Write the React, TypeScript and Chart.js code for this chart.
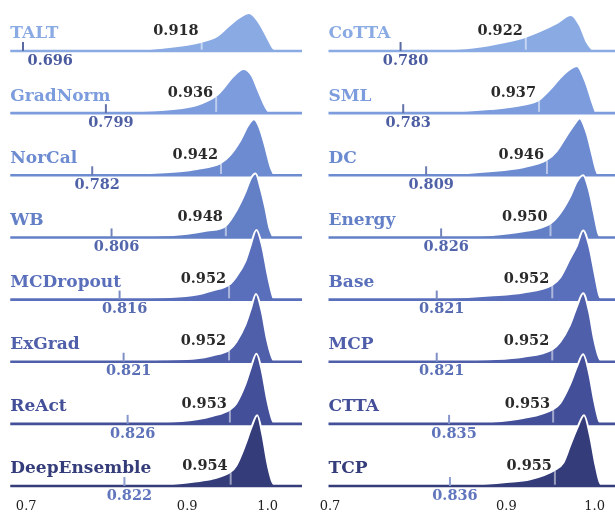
import React, { useEffect, useRef } from "react";
import { Chart, registerables } from "chart.js";
Chart.register(...registerables);

// ---------------- data ----------------
const leftMethods = ["TALT", "GradNorm", "NorCal", "WB", "MCDropout", "ExGrad", "ReAct", "DeepEnsemble"];
const leftMedians = [0.918, 0.936, 0.942, 0.948, 0.952, 0.952, 0.953, 0.954];
const leftLows = [0.696, 0.799, 0.782, 0.806, 0.816, 0.821, 0.826, 0.822];

const rightMethods = ["CoTTA", "SML", "DC", "Energy", "Base", "MCP", "CTTA", "TCP"];
const rightMedians = [0.922, 0.937, 0.946, 0.95, 0.952, 0.952, 0.953, 0.955];
const rightLows = [0.78, 0.783, 0.809, 0.826, 0.821, 0.821, 0.835, 0.836];

// density curves: [score, density (in row heights)]
const taltDensity = [[0.76, 0], [0.8, 0.005], [0.829, 0.016], [0.87, 0.053], [0.918, 0.15], [0.937, 0.24], [0.953, 0.42], [0.966, 0.55], [0.977, 0.61], [0.988, 0.48], [0.999, 0.23], [1.007, 0.043], [1.013, 0]];
const gradNormDensity = [[0.74, 0], [0.8, 0.006], [0.829, 0.024], [0.891, 0.08], [0.912, 0.13], [0.936, 0.28], [0.945, 0.4], [0.957, 0.59], [0.97, 0.71], [0.98, 0.61], [0.988, 0.37], [0.997, 0.106], [1.002, 0]];
const norCalDensity = [[0.73, 0], [0.8, 0.008], [0.829, 0.024], [0.891, 0.065], [0.912, 0.1], [0.942, 0.2], [0.953, 0.32], [0.966, 0.56], [0.976, 0.81], [0.983, 0.9], [0.99, 0.76], [0.997, 0.46], [1.003, 0.16], [1.008, 0]];
const wbDensity = [[0.74, 0], [0.829, 0.016], [0.87, 0.03], [0.9, 0.06], [0.925, 0.11], [0.948, 0.19], [0.961, 0.43], [0.972, 0.72], [0.979, 0.95], [0.985, 1.03], [0.991, 0.8], [0.997, 0.48], [1.002, 0.16], [1.007, 0]];
const mcDropoutDensity = [[0.75, 0], [0.83, 0.016], [0.87, 0.035], [0.912, 0.08], [0.932, 0.15], [0.952, 0.24], [0.961, 0.37], [0.972, 0.61], [0.978, 0.84], [0.986, 1.12], [0.9926, 0.89], [1.0008, 0.35], [1.007, 0.027], [1.009, 0]];
const exGradDensity = [[0.75, 0], [0.83, 0.016], [0.87, 0.03], [0.912, 0.055], [0.932, 0.105], [0.952, 0.19], [0.961, 0.32], [0.972, 0.59], [0.979, 0.85], [0.9855, 1.09], [0.9926, 0.81], [0.999, 0.37], [1.005, 0.08], [1.008, 0]];
const reActDensity = [[0.75, 0], [0.87, 0.027], [0.912, 0.075], [0.932, 0.13], [0.953, 0.23], [0.961, 0.33], [0.972, 0.63], [0.979, 0.9], [0.986, 1.13], [0.993, 0.84], [0.999, 0.41], [1.005, 0.09], [1.008, 0]];
const deepEnsembleDensity = [[0.75, 0], [0.87, 0.023], [0.912, 0.076], [0.932, 0.12], [0.954, 0.23], [0.961, 0.33], [0.972, 0.66], [0.98, 0.95], [0.987, 1.14], [0.9935, 0.82], [0.9993, 0.39], [1.005, 0.09], [1.009, 0]];

const coTTADensity = [[0.77, 0], [0.825, 0.016], [0.862, 0.056], [0.9, 0.15], [0.922, 0.23], [0.938, 0.32], [0.957, 0.45], [0.973, 0.58], [0.983, 0.42], [0.991, 0.15], [0.9985, 0]];
const smlDensity = [[0.77, 0], [0.825, 0.016], [0.881, 0.065], [0.919, 0.134], [0.937, 0.215], [0.949, 0.375], [0.9645, 0.62], [0.98, 0.76], [0.989, 0.53], [0.997, 0.19], [1.0016, 0]];
const dcDensity = [[0.78, 0], [0.825, 0.016], [0.881, 0.065], [0.919, 0.13], [0.946, 0.25], [0.957, 0.39], [0.968, 0.63], [0.978, 0.84], [0.983, 0.92], [0.991, 0.68], [0.997, 0.35], [1.0016, 0.09], [1.0042, 0]];
const energyDensity = [[0.79, 0], [0.825, 0.011], [0.881, 0.037], [0.919, 0.1], [0.95, 0.225], [0.961, 0.39], [0.972, 0.65], [0.98, 0.9], [0.987, 1.0], [0.9937, 0.76], [0.9993, 0.39], [1.0042, 0.065], [1.0069, 0]];
const baseDensity = [[0.79, 0], [0.825, 0.016], [0.881, 0.065], [0.919, 0.113], [0.952, 0.237], [0.961, 0.355], [0.972, 0.655], [0.98, 0.87], [0.987, 1.11], [0.9937, 0.87], [1.0005, 0.39], [1.0053, 0.065], [1.008, 0]];
const mcpDensity = [[0.79, 0], [0.825, 0.016], [0.881, 0.037], [0.919, 0.08], [0.952, 0.2], [0.961, 0.32], [0.972, 0.59], [0.98, 0.89], [0.987, 1.1], [0.9937, 0.81], [0.9993, 0.375], [1.0046, 0.08], [1.0076, 0]];
const cttaDensity = [[0.8, 0], [0.862, 0.016], [0.881, 0.027], [0.919, 0.092], [0.953, 0.237], [0.961, 0.333], [0.972, 0.63], [0.98, 0.92], [0.987, 1.12], [0.9937, 0.82], [0.9993, 0.39], [1.0046, 0.065], [1.0076, 0]];
const tcpDensity = [[0.8, 0], [0.8625, 0.021], [0.9003, 0.065], [0.9268, 0.108], [0.955, 0.26], [0.9645, 0.375], [0.9721, 0.645], [0.9804, 0.935], [0.988, 1.14], [0.9948, 0.81], [1.0005, 0.375], [1.0053, 0.08], [1.0084, 0]];

const leftDensities = [taltDensity, gradNormDensity, norCalDensity, wbDensity, mcDropoutDensity, exGradDensity, reActDensity, deepEnsembleDensity];
const rightDensities = [coTTADensity, smlDensity, dcDensity, energyDensity, baseDensity, mcpDensity, cttaDensity, tcpDensity];

const xTickValues = [0.7, 0.9, 1.0];
const xTickLabels = ["0.7", "0.9", "1.0"];

// ---------------- styles ----------------
const rowColors = ["#8aaae4", "#7c9cdd", "#6d8bd0", "#6380c7", "#5a6fbb", "#4f5faa", "#434f98", "#343c7a"];
const lowLabelColors = ["#4a5a9e", "#4d5ea3", "#5062a7", "#5366ac", "#576bb1", "#5a6fb5", "#5e73ba", "#6276be"];
const tickColors = ["#5a6aa2", "#6373aa", "#6b7bb3", "#7383bb", "#7a8ac2", "#8090c7", "#8797cc", "#8d9dd2"];

const W = 615;
const H = 515;
const ROW_PX = 62.14;
const BOTTOM_BASE_PX = 486;
const SERIF = "'DejaVu Serif', serif";

type Spec = {
  methods: string[];
  medians: number[];
  lows: number[];
  densities: number[][][];
  left: number;
  width: number;
  origin: number;
  ppu: number;
  lineStart: number;
  lineEnd: number;
};

const leftSpec: Spec = {
  methods: leftMethods, medians: leftMedians, lows: leftLows, densities: leftDensities,
  left: 0, width: 312, origin: 26.2, ppu: 805, lineStart: 0.6802, lineEnd: 1.0426,
};
const rightSpec: Spec = {
  methods: rightMethods, medians: rightMedians, lows: rightLows, densities: rightDensities,
  left: 312, width: 303, origin: 18, ppu: 882, lineStart: 0.6983, lineEnd: 1.03,
};

function Panel({ spec }: { spec: Spec }) {
  const ref = useRef<HTMLCanvasElement>(null);
  useEffect(() => {
    const canvas = ref.current;
    if (!canvas) return;
    const n = spec.methods.length;
    const xmin = 0.7 - spec.origin / spec.ppu;
    const xmax = xmin + spec.width / spec.ppu;
    const ymin = -(H - BOTTOM_BASE_PX) / ROW_PX;
    const ymax = BOTTOM_BASE_PX / ROW_PX;

    const datasets: any[] = [];
    let k = 0;
    spec.methods.forEach((m, i) => {
      const base = n - 1 - i;
      datasets.push({
        type: "line",
        label: m,
        data: spec.densities[i].map(([v, d]) => ({ x: v, y: base + d })),
        fill: { value: base },
        backgroundColor: rowColors[i],
        borderColor: "#ffffff",
        borderWidth: 2,
        cubicInterpolationMode: "monotone",
        pointRadius: 0,
        order: 1000 - k++,
      });
      datasets.push({
        type: "line",
        label: m + " baseline",
        data: [{ x: spec.lineStart, y: base }, { x: spec.lineEnd, y: base }],
        borderColor: rowColors[i],
        borderWidth: 2.6,
        fill: false,
        pointRadius: 0,
        order: 1000 - k++,
      });
    });

    const annot = {
      id: "annot",
      afterDatasetsDraw(chart: any) {
        const ctx = chart.ctx as CanvasRenderingContext2D;
        const xs = chart.scales.x;
        const ys = chart.scales.y;
        const panelLeftPx = xs.getPixelForValue(spec.lineStart);
        ctx.save();
        spec.methods.forEach((m, i) => {
          const base = n - 1 - i;
          const by = ys.getPixelForValue(base);
          const med = spec.medians[i];
          const pt = spec.densities[i].find((p) => p[0] === med);
          const mx = xs.getPixelForValue(med);
          const top = ys.getPixelForValue(base + (pt ? pt[1] : 0));
          ctx.strokeStyle = "rgba(255,255,255,0.5)";
          ctx.lineWidth = 2;
          ctx.beginPath();
          ctx.moveTo(mx, by - 1.3);
          ctx.lineTo(mx, top + 1);
          ctx.stroke();
          const lx = xs.getPixelForValue(spec.lows[i]);
          ctx.strokeStyle = tickColors[i];
          ctx.lineWidth = 2;
          ctx.beginPath();
          ctx.moveTo(lx, by);
          ctx.lineTo(lx, by - 9);
          ctx.stroke();

          ctx.textBaseline = "middle";
          ctx.font = `bold 17px ${SERIF}`;
          ctx.fillStyle = rowColors[i];
          ctx.textAlign = "left";
          ctx.fillText(m, panelLeftPx, by - 17);

          ctx.font = `bold 14.5px ${SERIF}`;
          ctx.fillStyle = "#2a2a2a";
          ctx.textAlign = "right";
          ctx.fillText(med.toFixed(3), mx - 3, by - 20);

          ctx.fillStyle = lowLabelColors[i];
          ctx.textAlign = "center";
          const cx = Math.max(lx + 5, panelLeftPx + 40);
          ctx.fillText(spec.lows[i].toFixed(3), cx, by + 10);
        });
        ctx.font = `13px ${SERIF}`;
        ctx.fillStyle = "#222222";
        ctx.textAlign = "center";
        ctx.textBaseline = "middle";
        xTickValues.forEach((v, j) => {
          ctx.fillText(xTickLabels[j], xs.getPixelForValue(v), 507);
        });
        ctx.restore();
      },
    };

    const chart = new Chart(canvas, {
      type: "line",
      data: { datasets },
      options: {
        responsive: false,
        maintainAspectRatio: false,
        animation: false,
        layout: { padding: 0 },
        events: [],
        scales: {
          x: { type: "linear", min: xmin, max: xmax, display: false },
          y: { type: "linear", min: ymin, max: ymax, display: false },
        },
        plugins: { legend: { display: false }, tooltip: { enabled: false } },
        elements: { point: { radius: 0 } },
      },
      plugins: [annot],
    } as any);
    return () => chart.destroy();
  }, [spec]);
  return (
    <canvas
      ref={ref}
      width={spec.width}
      height={H}
      style={{ position: "absolute", left: spec.left, top: 0, width: spec.width, height: H, display: "block" }}
    />
  );
}

export default function App() {
  return (
    <div style={{ position: "absolute", left: 0, top: 0, width: W, height: H, background: "#ffffff", overflow: "hidden" }}>
      <Panel spec={leftSpec} />
      <Panel spec={rightSpec} />
    </div>
  );
}
